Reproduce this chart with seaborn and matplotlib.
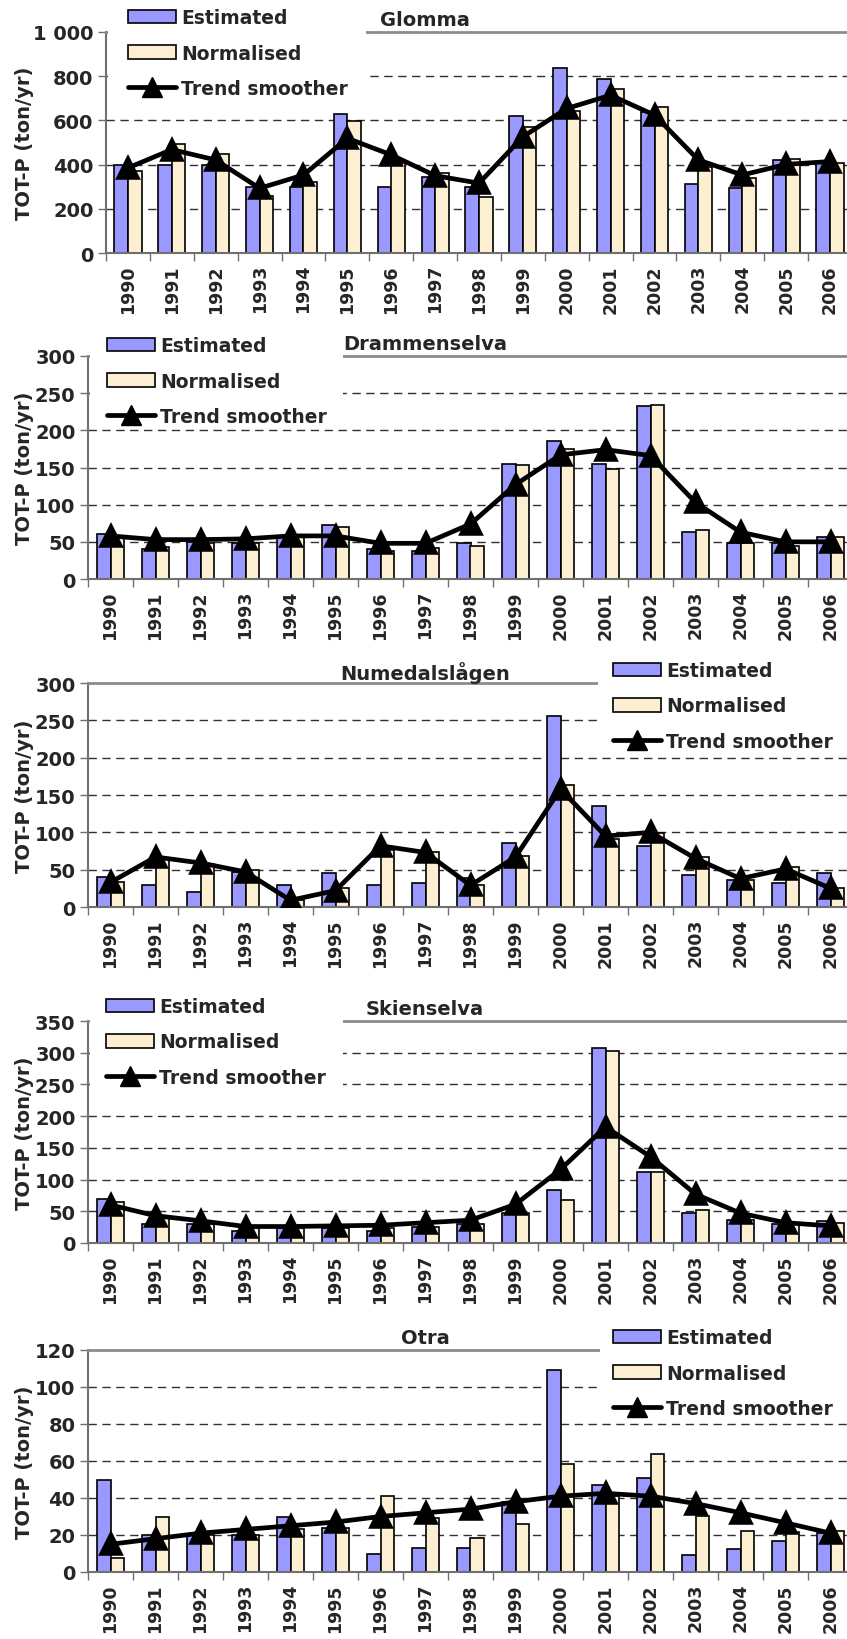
import numpy as np
import pandas as pd
import matplotlib
matplotlib.use("Agg")
import matplotlib.pyplot as plt
from matplotlib.patches import Patch, Rectangle
from matplotlib.lines import Line2D
from matplotlib.ticker import FuncFormatter
import seaborn as sns

# ---------------- data ----------------
years = [str(y) for y in range(1990, 2007)]
series_names = ["Estimated", "Normalised", "Trend smoother"]

glomma_est = [400, 400, 400, 299, 300, 630, 300, 346, 298, 620, 836, 786, 639, 311, 296, 421, 406]
glomma_norm = [373, 493, 448, 256, 323, 598, 406, 364, 253, 571, 644, 740, 662, 391, 341, 424, 406]
glomma_trend = [385, 468, 421, 293, 353, 519, 444, 350, 316, 526, 654, 714, 624, 421, 353, 401, 414]

dramm_est = [60, 40, 50, 49, 58, 73, 40, 38, 49, 155, 186, 155, 233, 63, 49, 48, 57]
dramm_norm = [57, 43, 49, 49, 56, 70, 38, 42, 45, 153, 175, 148, 234, 66, 48, 45, 56]
dramm_trend = [58, 53, 53, 54, 58, 58, 48, 48, 74, 127, 167, 174, 166, 103, 63, 50, 50]

numed_est = [40, 30, 20, 47, 30, 45, 30, 32, 39, 86, 256, 135, 82, 43, 36, 32, 45]
numed_norm = [34, 65, 57, 49, 9, 25, 76, 74, 30, 68, 163, 91, 99, 67, 36, 53, 25]
numed_trend = [33, 67, 59, 47, 9, 22, 82, 73, 29, 67, 158, 95, 100, 65, 38, 51, 25]

skien_est = [70, 30, 30, 19, 24, 24, 19, 26, 30, 47, 84, 308, 112, 48, 37, 30, 34]
skien_norm = [64, 39, 30, 23, 24, 24, 24, 26, 30, 47, 68, 302, 112, 52, 37, 30, 31]
skien_trend = [60, 43, 35, 26, 26, 27, 28, 32, 36, 61, 116, 183, 136, 77, 47, 32, 27]

otra_est = [50, 20, 20, 20, 30, 24, 10, 13, 13, 38, 109, 47, 51, 9, 12.7, 16.6, 21]
otra_norm = [7.3, 30, 20, 20, 23, 24, 41, 29, 18.5, 26, 58.5, 41, 64, 30.5, 22.3, 21.6, 22]
otra_trend = [15, 18, 21, 23, 25, 27, 30, 32, 34, 38, 41, 42.5, 41, 37, 32, 26.6, 21]

titles = ["Glomma", "Drammenselva", "Numedalslågen", "Skienselva", "Otra"]
y_maxes = [1000, 300, 300, 350, 120]
y_steps = [200, 50, 50, 50, 20]
y_label = "TOT-P (ton/yr)"

# ---------------- style ----------------
sns.set_theme(style="white")
plt.rcParams["font.family"] = ["DejaVu Sans"]
plt.rcParams["font.weight"] = "bold"
plt.rcParams["axes.labelweight"] = "bold"

EST_C = "#9999FF"
NORM_C = "#FDEFD2"

W, H = 847, 1640
fig = plt.figure(figsize=(W / 100, H / 100), dpi=100)
fig.patch.set_facecolor("white")

# layout in pixels: (left, right, top, bottom)
boxes = [(106, 852, 33, 254), (88, 853, 357, 580), (88, 853, 684, 908),
         (88, 853, 1022, 1244), (88, 853, 1351, 1573)]
# legend anchor (handle left x, top y)
leg_pos = [(128, 9), (107, 337), (613, 662), (106, 998), (613, 1329)]
# white legend area (x0, x1, y0, y1)
leg_area = [(108, 366, 0, 108), (90, 343, 322, 422), (598, 853, 650, 752),
            (90, 343, 985, 1097), (600, 853, 1318, 1422)]
title_pos = [(425, 21), (425, 345), (425, 673), (425, 1010), (425, 1339)]

est_all = [glomma_est, dramm_est, numed_est, skien_est, otra_est]
norm_all = [glomma_norm, dramm_norm, numed_norm, skien_norm, otra_norm]
trend_all = [glomma_trend, dramm_trend, numed_trend, skien_trend, otra_trend]

handles = [Patch(facecolor=EST_C, edgecolor="black", linewidth=1.2),
           Patch(facecolor=NORM_C, edgecolor="black", linewidth=1.2),
           Line2D([], [], color="black", lw=3.4, marker="^", markersize=14)]

for i in range(5):
    l, r, t, b = boxes[i]
    ax = fig.add_axes([l / W, 1 - b / H, (r - l) / W, (b - t) / H])
    df = pd.DataFrame({
        "year": years * 2,
        "series": ["Estimated"] * len(years) + ["Normalised"] * len(years),
        "value": list(est_all[i]) + list(norm_all[i]),
    })
    sns.barplot(data=df, x="year", y="value", hue="series", order=years,
                hue_order=["Estimated", "Normalised"],
                palette={"Estimated": EST_C, "Normalised": NORM_C},
                width=0.62, saturation=1, edgecolor="black", linewidth=1.2,
                legend=False, ax=ax, zorder=2)
    sns.pointplot(x=years, y=trend_all[i], order=years, color="black",
                  markers="^", linestyles="-", markersize=14, linewidth=3.4,
                  errorbar=None, ax=ax, zorder=6)

    ymax, step = y_maxes[i], y_steps[i]
    ticks = np.arange(0, ymax + step / 2, step)
    ax.set_xlim(-0.5, len(years) - 0.5)
    ax.set_ylim(0, ymax)
    ax.set_yticks(ticks)
    ax.yaxis.set_major_formatter(FuncFormatter(lambda v, p: f"{int(v):,}".replace(",", " ")))
    for v in ticks[1:-1]:
        ax.axhline(v, color="#303030", lw=1.0, ls=(0, (6, 4)), zorder=0.5)

    ax.set_xticks(range(len(years)))
    ax.set_xticklabels(years, rotation=90, fontsize=12.5, fontweight="bold")
    ax.set_xticks(np.arange(-0.5, len(years), 1), minor=True)
    ax.tick_params(axis="x", which="major", length=0, pad=8)
    ax.tick_params(axis="x", which="minor", length=6, width=1, color="#707070", direction="out", bottom=True)
    ax.tick_params(axis="y", which="major", length=6, width=1, color="#707070", direction="out",
                   labelsize=14, pad=3, left=True)
    for lab in ax.get_yticklabels():
        lab.set_fontweight("bold")

    ax.set_xlabel("")
    ax.set_ylabel(y_label, fontsize=14, fontweight="bold")
    ax.yaxis.set_label_coords((34 - l) / (r - l), 0.5)

    for side in ["left", "bottom"]:
        ax.spines[side].set_color("#707070")
        ax.spines[side].set_linewidth(1.5)
    ax.spines["top"].set_color("#8c8c8c")
    ax.spines["top"].set_linewidth(2)
    ax.spines["right"].set_visible(False)

    x0, x1, y0, y1 = leg_area[i]
    ax.add_patch(Rectangle((x0 / W, 1 - y1 / H), (x1 - x0) / W, (y1 - y0) / H,
                           transform=fig.transFigure, facecolor="white", edgecolor="none",
                           clip_on=False, zorder=4))

    hx, hy = leg_pos[i]
    ax.legend(handles, series_names, loc="upper left",
              bbox_to_anchor=(hx / W, 1 - hy / H), bbox_transform=fig.transFigure,
              frameon=False, borderpad=0, borderaxespad=0,
              handlelength=2.55, handleheight=0.72, handletextpad=0.28, labelspacing=0.88,
              prop={"weight": "bold", "size": 13.5})

    tx, ty = title_pos[i]
    fig.text(tx / W, 1 - ty / H, titles[i], ha="center", va="center",
             fontsize=14, fontweight="bold", zorder=7)

fig.savefig("out.png", dpi=100, facecolor="white")
